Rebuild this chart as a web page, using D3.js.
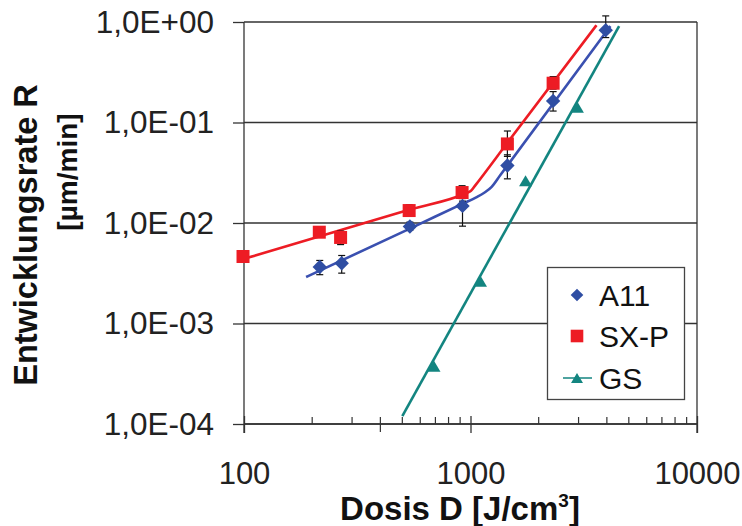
<!DOCTYPE html>
<html><head><meta charset="utf-8">
<script src="https://cdn.jsdelivr.net/npm/d3@7"></script>
<style>
html,body{margin:0;padding:0;background:#fff;}
svg{display:block;font-family:"Liberation Sans",Arial,sans-serif;}
</style></head>
<body>
<svg id="chart" width="742" height="526"></svg>
<script>
// ---------- data ----------
const xTicks = [100, 1000, 10000];
const xTickLabels = ["100", "1000", "10000"];
const xMinorTicks = [200,300,400,500,600,700,800,900,2000,3000,4000,5000,6000,7000,8000,9000];
const yTicks = [1e-4, 1e-3, 1e-2, 1e-1, 1];
const yTickLabels = ["1,0E-04", "1,0E-03", "1,0E-02", "1,0E-01", "1,0E+00"];

const seriesNames = ["A11", "SX-P", "GS"];

const a11Dose = [216, 270, 540, 922, 1455, 2316, 3954];
const a11Rate = [0.00365, 0.00398, 0.00922, 0.0148, 0.0373, 0.164, 0.83];
const a11ErrLo = [0.00306, 0.00317, 0.0085, 0.0093, 0.0275, 0.13, 0.7];
const a11ErrHi = [0.00424, 0.00475, 0.0102, 0.0165, 0.0477, 0.203, 1.15];

const sxpDose = [99, 215, 267, 536, 918, 1455, 2316];
const sxpRate = [0.00464, 0.0081, 0.00718, 0.0133, 0.0201, 0.0612, 0.246];
const sxpErrLo = [0.0044, 0.0075, 0.0061, 0.0118, 0.0175, 0.046, 0.215];
const sxpErrHi = [0.0049, 0.0088, 0.0083, 0.0152, 0.0235, 0.0823, 0.286];

const gsDose = [690, 1107, 1750, 2965];
const gsRate = [0.000375, 0.00263, 0.0263, 0.142];

// fitted trend curves
const a11FitDose = [188, 540, 920, 1060, 1150, 1240, 1350, 4150];
const a11FitRate = [0.0029, 0.0088, 0.0155, 0.0180, 0.0200, 0.0229, 0.0297, 0.91];
const sxpFitDose = [100, 540, 960, 1005, 1050, 1455, 3600];
const sxpFitRate = [0.0044, 0.0136, 0.0199, 0.0209, 0.0237, 0.0629, 0.93];
const gsFitDose = [500, 4530];
const gsFitRate = [0.00012, 0.91];

// ---------- styles ----------
const C_A11 = "#2f4ea3", C_A11_LINE = "#3a50b0";
const C_SXP = "#ed1c24";
const C_GS = "#138580";
const AX = "#333";
const FONT = "'Liberation Sans', Arial, sans-serif";

const svg = d3.select("#chart");
const x = d3.scaleLog().domain([100, 10000]).range([244, 697]);
const y = d3.scaleLog().domain([1e-4, 1]).range([424, 22]);

// horizontal gridlines
svg.append("g").selectAll("line").data(yTicks).join("line")
  .attr("x1", x(100)).attr("x2", x(10000))
  .attr("y1", d => y(d)).attr("y2", d => y(d))
  .attr("stroke", AX).attr("stroke-width", 1.3);

// right border
svg.append("line").attr("x1", x(10000)).attr("x2", x(10000))
  .attr("y1", y(1)).attr("y2", y(1e-4) + 9)
  .attr("stroke", AX).attr("stroke-width", 1.3);

// y axis
const yAxis = d3.axisLeft(y).tickValues(yTicks)
  .tickFormat((d, i) => yTickLabels[i]).tickSize(11).tickPadding(19);
const gy = svg.append("g").attr("transform", `translate(${x(100)},0)`).call(yAxis);
gy.select(".domain").attr("d", `M0,${y(1)}V${y(1e-4) + 9}`).attr("stroke", AX).attr("stroke-width", 1.3);
gy.selectAll(".tick line").attr("stroke", AX).attr("stroke-width", 1.3);
gy.selectAll(".tick text").attr("font-size", 31.5).attr("fill", "#222").attr("font-family", FONT);

// x axis
const xAxis = d3.axisBottom(x).tickValues(xTicks)
  .tickFormat((d, i) => xTickLabels[i]).tickSize(9).tickPadding(29);
const gx = svg.append("g").attr("transform", `translate(0,${y(1e-4)})`).call(xAxis);
gx.select(".domain").remove();
gx.append("line").attr("x1", x(100)).attr("x2", x(10000)).attr("stroke", AX).attr("stroke-width", 1.3);
gx.selectAll(".tick line").attr("stroke", AX).attr("stroke-width", 1.3).attr("y1", -8);
gx.selectAll(".tick text").attr("font-size", 31).attr("fill", "#222").attr("font-family", FONT);
gx.append("g").selectAll("line").data(xMinorTicks).join("line")
  .attr("x1", d => x(d)).attr("x2", d => x(d))
  .attr("y1", d => -7).attr("y2", d => d === 400 ? 8 : 0)
  .attr("stroke", AX).attr("stroke-width", 1.2);

// axis titles
svg.append("text").attr("x", 460).attr("y", 520).attr("text-anchor", "middle")
  .attr("font-size", 33).attr("font-weight", "bold").attr("fill", "#111")
  .html('Dosis D [J/cm<tspan dy="-13" font-size="19">3</tspan><tspan dy="13">]</tspan>');
svg.append("text").attr("transform", "translate(37,235) rotate(-90)").attr("text-anchor", "middle")
  .attr("font-size", 32.5).attr("font-weight", "bold").attr("fill", "#111")
  .text("Entwicklungsrate R");
svg.append("text").attr("transform", "translate(77,172) rotate(-90)").attr("text-anchor", "middle")
  .attr("font-size", 28).attr("font-weight", "bold").attr("fill", "#111")
  .text("[µm/min]");

// trend lines
const lineGen = d3.line().x(d => x(d[0])).y(d => y(d[1])).curve(d3.curveMonotoneX);
function drawFit(dose, rate, color, w) {
  svg.append("path").datum(dose.map((d, i) => [d, rate[i]]))
    .attr("d", lineGen).attr("fill", "none").attr("stroke", color).attr("stroke-width", w);
}
drawFit(gsFitDose, gsFitRate, C_GS, 2.6);
drawFit(a11FitDose, a11FitRate, C_A11_LINE, 2.6);
drawFit(sxpFitDose, sxpFitRate, C_SXP, 2.6);

// error bars
function drawErr(dose, lo, hi) {
  const g = svg.append("g").attr("stroke", "#111").attr("stroke-width", 1.2);
  dose.forEach((d, i) => {
    g.append("line").attr("x1", x(d)).attr("x2", x(d)).attr("y1", y(lo[i])).attr("y2", y(hi[i]));
    g.append("line").attr("x1", x(d) - 3.5).attr("x2", x(d) + 3.5).attr("y1", y(lo[i])).attr("y2", y(lo[i]));
    g.append("line").attr("x1", x(d) - 3.5).attr("x2", x(d) + 3.5).attr("y1", y(hi[i])).attr("y2", y(hi[i]));
  });
}
drawErr(a11Dose, a11ErrLo, a11ErrHi);
drawErr(sxpDose, sxpErrLo, sxpErrHi);

// markers
const diamond = s => `M0,${-s}L${s},0L0,${s}L${-s},0Z`;
const square = s => `M${-s},${-s}H${s}V${s}H${-s}Z`;
const tri = (w, h) => `M0,${-h / 2}L${w / 2},${h / 2}L${-w / 2},${h / 2}Z`;

svg.append("g").selectAll("path").data(a11Dose.map((d, i) => [d, a11Rate[i]])).join("path")
  .attr("transform", d => `translate(${x(d[0])},${y(d[1])})`)
  .attr("d", diamond(7.2)).attr("fill", C_A11);
svg.append("g").selectAll("path").data(sxpDose.map((d, i) => [d, sxpRate[i]])).join("path")
  .attr("transform", d => `translate(${x(d[0])},${y(d[1])})`)
  .attr("d", square(6.5)).attr("fill", C_SXP);
svg.append("g").selectAll("path").data(gsDose.map((d, i) => [d, gsRate[i]])).join("path")
  .attr("transform", d => `translate(${x(d[0])},${y(d[1])})`)
  .attr("d", tri(13, 11)).attr("fill", C_GS);

// legend
const lg = svg.append("g");
lg.append("rect").attr("x", 547.5).attr("y", 267.5).attr("width", 137).attr("height", 132)
  .attr("fill", "#fff").attr("stroke", "#444").attr("stroke-width", 1.3);
const rows = [295, 336, 378];
const mk = [diamond(6.3), square(6.3), tri(12, 10)];
const mc = [C_A11, C_SXP, C_GS];
seriesNames.forEach((n, i) => {
  if (i === 2) lg.append("line").attr("x1", 563).attr("x2", 592).attr("y1", rows[i]).attr("y2", rows[i])
    .attr("stroke", C_GS).attr("stroke-width", 1.5);
  lg.append("path").attr("transform", `translate(577,${rows[i]})`).attr("d", mk[i]).attr("fill", mc[i]);
  lg.append("text").attr("x", 599).attr("y", rows[i] + 11).attr("font-size", 30).attr("fill", "#111")
    .attr("font-family", FONT).text(n);
});
</script>
</body></html>
